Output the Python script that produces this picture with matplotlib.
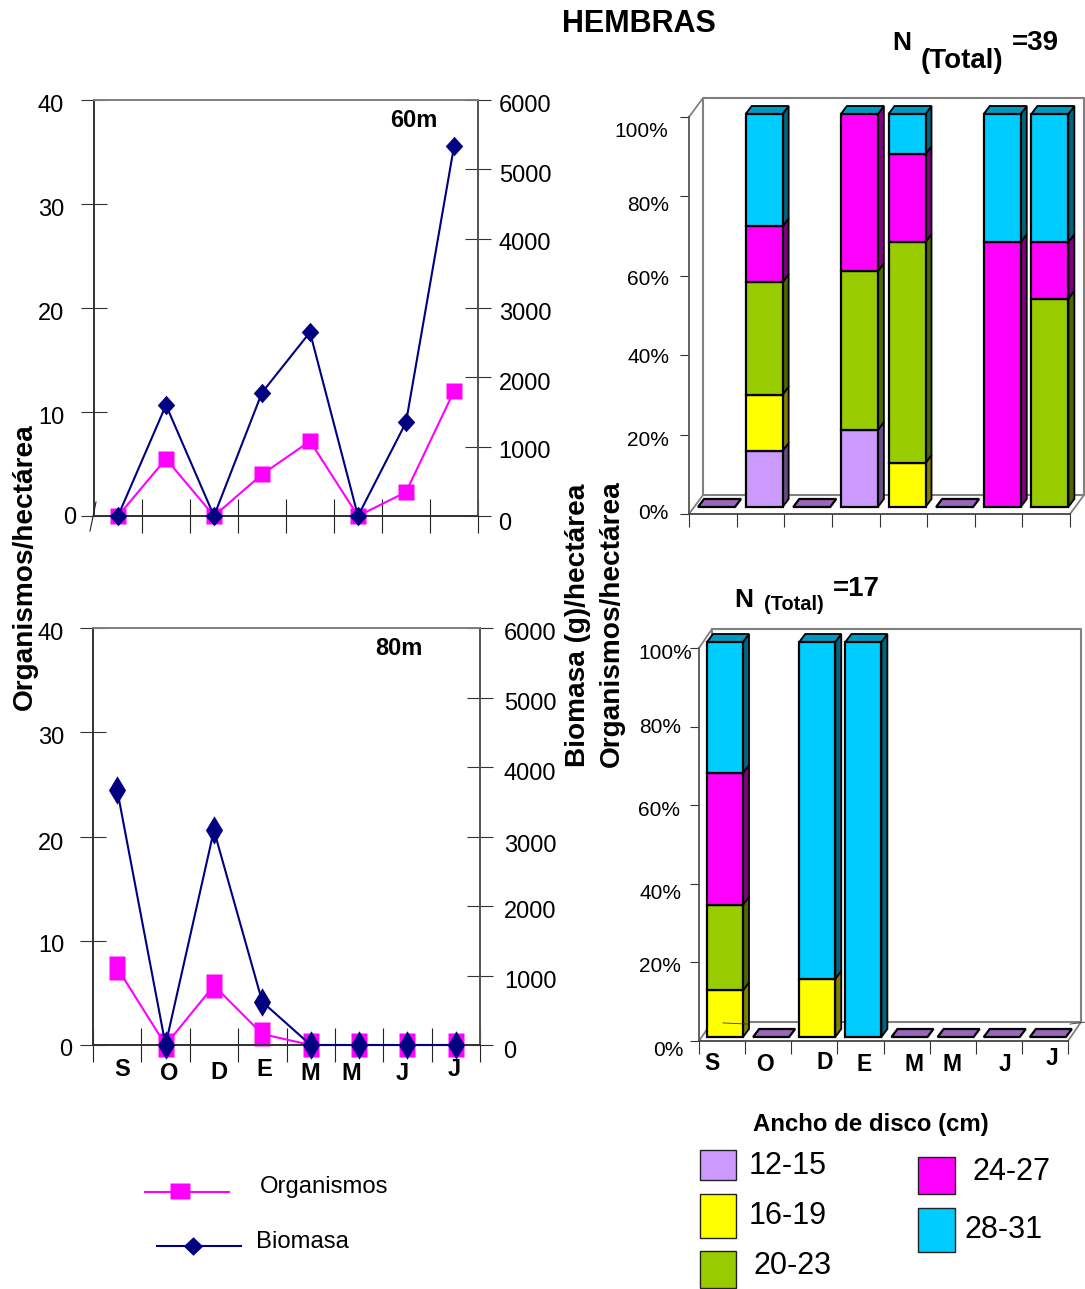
import matplotlib
matplotlib.use("Agg")
import matplotlib.pyplot as plt
from matplotlib.lines import Line2D
from matplotlib.patches import Polygon, Rectangle
from matplotlib.path import Path
from matplotlib.transforms import Affine2D

plt.rcParams['font.family'] = ['Liberation Sans', 'DejaVu Sans']

W, H = 1085, 1289
months = ['S', 'O', 'D', 'E', 'M', 'M', 'J', 'J']

org_60 = [0, 5.5, 0, 4, 7.2, 0, 2.3, 12]
bio_60 = [0, 1600, 0, 1780, 2650, 0, 1350, 5330]
org_80 = [7.4, 0, 5.7, 1.05, 0, 0, 0, 0]
bio_80 = [3670, 0, 3090, 620, 0, 0, 0, 0]

size_classes = ['12-15', '16-19', '20-23', '24-27', '28-31']
class_colors = ['#CC99FF', '#FFFF00', '#99CC00', '#FF00FF', '#00CCFF']
side_colors = ['#664D80', '#808000', '#4D6600', '#800080', '#006680']
top_color = '#0099BF'
flat_color = '#9966BB'

pct_60 = {
    '12-15': [0, 14.3, 0, 19.6, 0, 0, 0, 0],
    '16-19': [0, 14.3, 0, 0, 11.2, 0, 0, 0],
    '20-23': [0, 28.6, 0, 40.4, 56.2, 0, 0, 53],
    '24-27': [0, 14.2, 0, 40, 22.4, 0, 67.4, 14.4],
    '28-31': [0, 28.6, 0, 0, 10.2, 0, 32.6, 32.6],
}
pct_80 = {
    '12-15': [0, 0, 0, 0, 0, 0, 0, 0],
    '16-19': [11.8, 0, 14.7, 0, 0, 0, 0, 0],
    '20-23': [21.7, 0, 0, 0, 0, 0, 0, 0],
    '24-27': [33.4, 0, 0, 0, 0, 0, 0, 0],
    '28-31': [33.1, 0, 85.3, 100, 0, 0, 0, 0],
}
pct_ticks = [0, 20, 40, 60, 80, 100]
pct_labels = ['0%', '20%', '40%', '60%', '80%', '100%']
org_ticks = [0, 10, 20, 30, 40]
bio_ticks = [0, 1000, 2000, 3000, 4000, 5000, 6000]

fig = plt.figure(figsize=(W / 100, H / 100), dpi=100)
fig.patch.set_facecolor('white')

TEXT_SHIFT = 2.5  # matplotlib centres on a box that includes the descent


def add_axes_px(x0, y_top, x1, y_bot):
    return fig.add_axes([x0 / W, 1 - y_bot / H, (x1 - x0) / W, (y_bot - y_top) / H])


def fx(x):
    return x / W


def fy(y):
    return 1 - y / H


def marker_path(kind, ratio):
    if kind == 'd':
        v = [(0, 1), (ratio, 0), (0, -1), (-ratio, 0), (0, 1)]
    else:
        v = [(-ratio, -1), (ratio, -1), (ratio, 1), (-ratio, 1), (-ratio, -1)]
    return Path(v, closed=True)


later = []


def line_panel(box, org, bio, square, diamond, left_pos, right_pos, tag, tag_pos):
    ax = add_axes_px(*box)
    axr = ax.twinx()
    x = [i + 0.5 for i in range(8)]
    ax.set_xlim(0, 8)
    ax.set_ylim(0, 40)
    axr.set_ylim(0, 6000)
    ax.plot(x, org, color='#FF00FF', lw=1.5, marker=square[0], ms=square[1],
            mfc='#FF00FF', mec='none', clip_on=False, zorder=3)
    axr.plot(x, bio, color='#000080', lw=1.5, marker=diamond[0], ms=diamond[1],
             mfc='#000080', mec='none', clip_on=False, zorder=4)
    ax.set_xticks(range(9))
    ax.set_xticklabels([])
    ax.tick_params(axis='x', direction='inout', length=24.5, width=0.8, color='#222222')
    ax.set_yticks(org_ticks)
    axr.set_yticks(bio_ticks)
    ax.tick_params(axis='y', direction='inout', length=19, width=0.8, color='#333333',
                   labelsize=17)
    axr.tick_params(axis='y', direction='inout', length=19, width=0.8, color='#333333',
                    labelsize=17)
    for a in (ax, axr):
        a.spines['top'].set_color('#808080')
        a.spines['top'].set_linewidth(1.3)
        a.spines['left'].set_color('#333333')
        a.spines['left'].set_linewidth(1.2)
        a.spines['right'].set_color('#555555')
        a.spines['right'].set_linewidth(1.3)
        a.spines['bottom'].set_color('#333333')
        a.spines['bottom'].set_linewidth(1.3)
    for lab, p in zip(ax.get_yticklabels(), left_pos):
        later.append((lab, p[0], p[1]))
    for lab, p in zip(axr.get_yticklabels(), right_pos):
        later.append((lab, p[0], p[1]))
    fig.text(fx(tag_pos[0]), fy(tag_pos[1] + TEXT_SHIFT), tag, fontsize=17, fontweight='bold',
             ha='center', va='center')
    return ax, axr


ax60, ax60r = line_panel(
    (94, 100, 478, 516), org_60, bio_60,
    (marker_path('s', 0.9), 12), (marker_path('d', 0.9), 14),
    [(70, 516), (51, 416), (51, 312), (51, 208), (51, 104)],
    [(505, 521), (525, 450), (525, 382), (525, 312), (525, 241), (525, 173), (525, 104)],
    '60m', (414, 118))
ax80, ax80r = line_panel(
    (93, 628, 480, 1045), org_80, bio_80,
    (marker_path('s', 0.65), 17), (marker_path('d', 0.6), 20.5),
    [(66, 1048), (51, 943), (51, 842), (51, 736), (51, 632)],
    [(510, 1049), (530, 979), (530, 909), (530, 843), (530, 772), (530, 702), (530, 632)],
    '80m', (399, 646))

ax60.xaxis.get_major_ticks()[0].tick1line.set_visible(False)
ax60.xaxis.get_major_ticks()[0].tick2line.set_visible(False)
fig.add_artist(Line2D([fx(96), fx(90)], [fy(502), fy(531)], color='#222222', lw=0.8))

ax80.set_xticks([i + 0.5 for i in range(8)], minor=True)
ax80.set_xticklabels(months, minor=True)
ax80.tick_params(axis='x', which='minor', length=0, labelsize=17)
month_pos = [(122, 1067), (169, 1071), (219, 1070), (264, 1067),
             (310, 1071), (351, 1071), (402, 1071), (454, 1067)]
for lab, p in zip(ax80.get_xticklabels(minor=True), month_pos):
    lab.set_fontweight('bold')
    later.append((lab, p[0], p[1]))


def bar_panel(box, pct, bar_off, bar_w, base_px, top_px, wall, label_pos, month_labels=None):
    x0, y_top, x1, y_bot = box
    ax = add_axes_px(*box)
    ax.patch.set_alpha(0)
    ax.set_xlim(0, 8)
    ax.set_ylim(0, 100)
    sx = (x1 - x0) / 8
    sy = (y_bot - y_top) / 100
    wx, wy = wall[0] / sx, wall[1] / sy
    wc = '#808080'
    ax.plot([wx, wx, 8 + wx, 8 + wx, wx], [wy, 100 + wy, 100 + wy, wy, wy],
            color=wc, lw=1.5, clip_on=False, zorder=1)
    for xa, ya in ((0, 0), (0, 100), (8, 0)):
        ax.plot([xa, xa + wx], [ya, ya + wy], color=wc, lw=1.3, clip_on=False, zorder=1)
    lift = (y_bot - base_px) / sy
    scale = (base_px - top_px) / (y_bot - y_top)
    dx, dy = 6 / sx, 8 / sy
    for i in range(8):
        left = i + bar_off / sx
        w = bar_w / sx
        cum = 0
        vals = [(k, pct[name][i]) for k, name in enumerate(size_classes)]
        if sum(v for _, v in vals) == 0:
            ax.add_patch(Polygon(
                [(left, lift), (left + w, lift), (left + w + dx, lift + dy), (left + dx, lift + dy)],
                closed=True, fc=flat_color, ec='black', lw=1.6, clip_on=False, zorder=3))
            continue
        t = lift
        for k, v in vals:
            if v == 0:
                continue
            b = lift + cum * scale
            t = lift + (cum + v) * scale
            ax.bar(left + w / 2, t - b, width=w, bottom=b, color=class_colors[k],
                   edgecolor='black', linewidth=1.6, clip_on=False, zorder=4)
            ax.add_patch(Polygon(
                [(left + w, b), (left + w + dx, b + dy), (left + w + dx, t + dy), (left + w, t)],
                closed=True, fc=side_colors[k], ec='black', lw=1.3, clip_on=False, zorder=3))
            cum += v
        ax.add_patch(Polygon(
            [(left, t), (left + w, t), (left + w + dx, t + dy), (left + dx, t + dy)],
            closed=True, fc=top_color, ec='black', lw=1.3, clip_on=False, zorder=3))
    ax.spines['top'].set_visible(False)
    ax.spines['right'].set_visible(False)
    ax.spines['left'].set_color('#555555')
    ax.spines['left'].set_linewidth(1.3)
    ax.spines['bottom'].set_color('#444444')
    ax.spines['bottom'].set_linewidth(1.3)
    ax.set_yticks(pct_ticks)
    ax.set_yticklabels(pct_labels)
    ax.tick_params(axis='y', length=6.5, width=0.8, color='#333333', labelsize=15)
    ax.set_xticks(range(9))
    ax.set_xticklabels([])
    ax.tick_params(axis='x', length=9.4, width=0.8, color='#333333')
    for lab, p in zip(ax.get_yticklabels(), label_pos):
        later.append((lab, p[0], p[1]))
    if month_labels:
        ax.set_xticks([i + 0.5 for i in range(8)], minor=True)
        ax.set_xticklabels(months, minor=True)
        ax.tick_params(axis='x', which='minor', length=0, labelsize=16.5)
        for lab, p in zip(ax.get_xticklabels(minor=True), month_labels):
            lab.set_fontweight('bold')
            later.append((lab, p[0], p[1]))
    return ax


bar60 = bar_panel((689, 117, 1070, 514), pct_60, 9, 37, 507, 114, (14, 19),
                  [(653, 511), (648, 438), (648, 355), (648, 277), (648, 203), (641, 129)])
bar80 = bar_panel((699, 648, 1068, 1041), pct_80, 8, 36, 1037, 642, (13, 19),
                  [(668, 1048), (660, 964), (660, 891), (659, 808), (660, 725), (665, 651)],
                  [(712, 1061), (765, 1062), (825, 1060), (864, 1062),
                   (914, 1062), (952, 1062), (1005, 1062), (1052, 1056)])
bar80.plot([0.52, 1.06], [4.6, 4.3], color='#333333', lw=0.6, clip_on=False, zorder=5)
bar80.plot([8.04, 8.37], [4.3, 4.8], color='#333333', lw=0.6, clip_on=False, zorder=5)

# axis titles
ax60.set_ylabel('Organismos/hectárea', fontsize=20.2, fontweight='bold', va='center')
ax60.yaxis.set_label_coords(fx(25), fy(567), transform=fig.transFigure)
ax60r.set_ylabel('Biomasa (g)/hectárea', fontsize=20.2, fontweight='bold', rotation=90, va='center')
ax60r.yaxis.set_label_coords(fx(578), fy(625), transform=fig.transFigure)
bar80.set_ylabel('Organismos/hectárea', fontsize=20.2, fontweight='bold', va='center')
bar80.yaxis.set_label_coords(fx(612), fy(624), transform=fig.transFigure)


def label(x, y, s, size, bold=False):
    fig.text(fx(x), fy(y + TEXT_SHIFT), s, fontsize=size,
             fontweight='bold' if bold else 'normal', ha='center', va='center')


label(639, 21, 'HEMBRAS', 22, True)
label(902, 40, 'N', 19, True)
label(962, 59, '(Total)', 20, True)
label(1035, 40, '=39', 20, True)
label(744, 597, 'N', 19, True)
label(794, 602, '(Total)', 14.4, True)
label(856, 587, '=17', 20, True)

# legends
label(871, 1122, 'Ancho de disco (cm)', 17.3, True)
swatches = [(700, 1150, 736, 1180), (700, 1194, 736, 1238), (700, 1251, 736, 1288),
            (918, 1157, 955, 1194), (918, 1208, 955, 1252)]
swatch_text = [(788, 1163), (788, 1213), (793, 1264), (1011, 1170), (1004, 1227)]
for (a, b, c, d), col, name, tp in zip(swatches, class_colors, size_classes, swatch_text):
    fig.add_artist(Rectangle((fx(a), fy(d)), (c - a) / W, (d - b) / H, fc=col, ec='#222222',
                             lw=1.0, transform=fig.transFigure))
    label(tp[0], tp[1], name, 22)

fig.add_artist(Line2D([fx(145), fx(229)], [fy(1192), fy(1192)], color='#FF00FF', lw=1.5))
fig.add_artist(Line2D([fx(180)], [fy(1191)], marker=marker_path('s', 1.25), ms=14.5,
                      color='#FF00FF', mec='none', ls='none'))
fig.add_artist(Line2D([fx(157), fx(241)], [fy(1246), fy(1246)], color='#000080', lw=1.5))
fig.add_artist(Line2D([fx(193)], [fy(1246)], marker=marker_path('d', 1.05), ms=14,
                      color='#000080', mec='none', ls='none'))
label(324, 1185, 'Organismos', 17.2)
label(302, 1239, 'Biomasa', 17.2)

# place tick labels where the reference has them (centres, in pixels)
fig.canvas.draw()
for lab, cx, cy in later:
    tr = lab.get_transform()
    px = tr.transform(lab.get_position())
    lab.set_ha('center')
    lab.set_va('center')
    lab.set_transform(tr + Affine2D().translate(cx - px[0], (H - cy - TEXT_SHIFT) - px[1]))

fig.savefig('out.png', dpi=100)
